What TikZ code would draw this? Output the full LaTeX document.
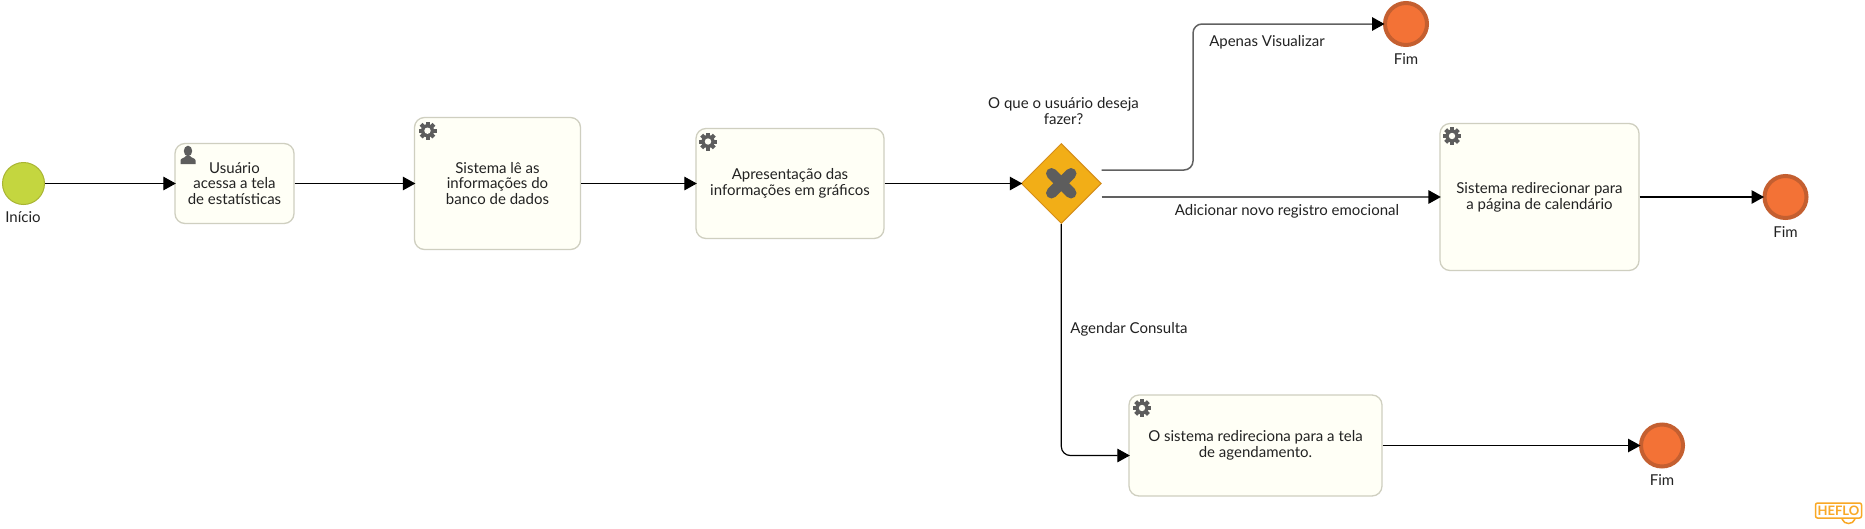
\documentclass[tikz,border=0pt]{standalone}
\usepackage{fontspec}
\setmainfont{Lato}
\usetikzlibrary{arrows.meta,shapes.geometric}
\definecolor{taskfill}{HTML}{FFFFF6}
\definecolor{taskline}{HTML}{CFCFC0}
\definecolor{startfill}{HTML}{C4D63F}
\definecolor{startline}{HTML}{A9B533}
\definecolor{endfill}{HTML}{F37236}
\definecolor{endline}{HTML}{C45F30}
\definecolor{gatefill}{HTML}{F2AE17}
\definecolor{gateline}{HTML}{D58E1B}
\definecolor{icongray}{HTML}{5D5D5D}
\definecolor{logo}{HTML}{F9A825}
\definecolor{textc}{HTML}{222222}
\tikzset{
  x=1pt,y=-1pt,
  base/.style={font=\fontsize{15}{15.7}\selectfont,text=textc},
  taskbox/.style={base,draw=taskline,fill=taskfill,line width=1.3pt,rounded corners=10pt,align=center,inner sep=0pt},
  startev/.style={circle,draw=startline,fill=startfill,line width=1pt,minimum size=42pt,inner sep=0pt},
  endev/.style={circle,draw=endline,fill=endfill,line width=4pt,minimum size=42pt,inner sep=0pt},
  gatebox/.style={diamond,draw=gateline,fill=gatefill,line width=1pt,minimum width=80pt,minimum height=80pt,inner sep=0pt},
  lab/.style={base,align=center,inner sep=0pt},
  flow/.style={draw=black,line width=1.2pt,shorten >=-1.5pt,-{Triangle[length=12.5pt,width=13.5pt]}},
  gflow/.style={draw=black!62,line width=1.5pt,shorten >=-1.5pt,-{Triangle[length=12.5pt,width=13.5pt,fill=black,color=black]}},
  gearicon/.pic={
    \fill[icongray] (0,0) circle[radius=6.6];
    \foreach \a in {0,45,...,315}{
      \fill[icongray,rotate=\a] (-2,-5) rectangle (2,-9);
    }
    \fill[taskfill] (0,0) circle[radius=3.2];
  },
  personicon/.pic={
    \fill[icongray] (0,-5) ellipse[x radius=4.2,y radius=5.3];
    \fill[icongray] (-7.5,8) -- (-7.5,4.5) .. controls (-7.5,2) and (-3,2) .. (-2,0) -- (2,0) .. controls (3,2) and (7.5,2) .. (7.5,4.5) -- (7.5,8) -- cycle;
  },
}
\begin{document}
\begin{tikzpicture}
\useasboundingbox (0,0) rectangle (1865,528);
\fill[white] (0,0) rectangle (1865,528);
% events
\node[startev] (start) at (23.5,183.5) {};
\node[lab] (startl) at (23,217) {Início};
% tasks
\node[taskbox,minimum width=119pt,minimum height=80pt] (t1) at (234.5,183.5) {Usuário\\acessa a tela\\de estatísticas};
\node[taskbox,minimum width=166pt,minimum height=132pt] (t2) at (497.5,183.5) {Sistema lê as\\informações do\\banco de dados};
\node[taskbox,minimum width=188pt,minimum height=110pt] (t3) at (790,183.5) {Apresentação das\\informações em gráficos};
\node[gatebox] (gw) at (1061.3,183.5) {};
\node[lab] (gwl) at (1063.5,111) {O que o usuário deseja\\fazer?};
\node[taskbox,minimum width=199pt,minimum height=147pt] (t4) at (1539.5,197) {Sistema redirecionar para\\a página de calendário};
\node[taskbox,minimum width=253pt,minimum height=101pt] (t5) at (1255.5,445.5) {O sistema redireciona para a tela\\de agendamento.};
% end events
\node[endev] (e1) at (1406,24) {};
\node[lab] (e1l) at (1406,59) {Fim};
\node[endev] (e2) at (1785.5,197) {};
\node[lab] (e2l) at (1785.5,232) {Fim};
\node[endev] (e3) at (1662,445.5) {};
\node[lab] (e3l) at (1662,480.5) {Fim};
% connector labels
\node[lab] (l1) at (1267,42.5) {Apenas Visualizar};
\node[lab] (l2) at (1287,211) {Adicionar novo registro emocional};
\node[lab] (l3) at (1129,329.5) {Agendar Consulta};
% icons
\pic at (188,156) {personicon};
\pic at (427.5,130.7) {gearicon};
\pic at (708,141.5) {gearicon};
\pic at (1452,136) {gearicon};
\pic at (1142,408) {gearicon};
% gateway X
\draw[icongray,line width=11pt,line cap=round] (1051.5,173.5) -- (1071,193);
\draw[icongray,line width=11pt,line cap=round] (1071,173.5) -- (1051.5,193);
% free ends
\coordinate (g1) at (1101.5,170);
\coordinate (g2) at (1101.5,197);
\coordinate (g1c) at (1193,170);
\coordinate (g3c) at (1061.3,455.5);
\coordinate (t5in) at (t5.west |- g3c);
% connectors
\draw[flow] (start) -- (t1);
\draw[flow] (t1) -- (t2);
\draw[flow] (t2) -- (t3);
\draw[flow] (t3) -- (gw);
\draw[gflow,rounded corners=9pt] (g1) -- (g1c) -- (g1c |- e1) -- (e1.west);
\draw[gflow] (g2) -- (t4.west);
\draw[flow,rounded corners=9pt] (gw.south) -- (g3c) -- (t5in);
\draw[flow] (t4) -- (e2);
\draw[flow] (t5) -- (e3);
% logo
\node[draw=logo,line width=1.5pt,rounded corners=2pt,minimum width=46pt,minimum height=15pt,inner sep=0pt,text=logo,font=\fontsize{13}{13}\bfseries\selectfont] (heflo) at (1838.5,510.5) {HEFLO};
\coordinate (s1) at (1842,519);
\coordinate (s2) at (1855,519);
\draw[logo,line width=1.5pt] (s1) .. controls (1844,525) and (1853,525) .. (s2);
\end{tikzpicture}
\end{document}
